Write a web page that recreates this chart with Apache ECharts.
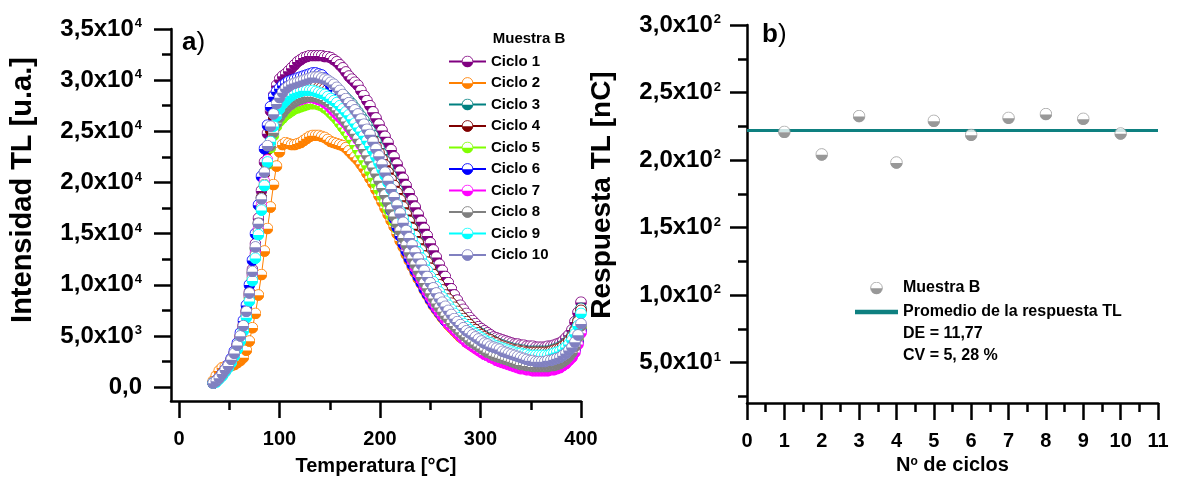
<!DOCTYPE html>
<html>
<head>
<meta charset="utf-8">
<script src="https://cdn.jsdelivr.net/npm/echarts@6/dist/echarts.min.js"></script>
<style>
  html, body { margin: 0; padding: 0; background: #fff; }
  #chart { width: 1178px; height: 481px; }
</style>
</head>
<body>
<div id="chart"></div>
<script>
// ---- Panel a): TL glow curves, Muestra B, ten read-out cycles ----
const temps = [
  34, 37, 40, 43, 46, 49, 52, 55, 58, 61,
  64, 67, 70, 73, 76, 79, 82, 85, 88, 91,
  94, 97, 100, 103, 106, 109, 112, 115, 118, 121,
  124, 127, 130, 133, 136, 139, 142, 145, 148, 151,
  154, 157, 160, 163, 166, 169, 172, 175, 178, 181,
  184, 187, 190, 193, 196, 199, 202, 205, 208, 211,
  214, 217, 220, 223, 226, 229, 232, 235, 238, 241,
  244, 247, 250, 253, 256, 259, 262, 265, 268, 271,
  274, 277, 280, 283, 286, 289, 292, 295, 298, 301,
  304, 307, 310, 313, 316, 319, 322, 325, 328, 331,
  334, 337, 340, 343, 346, 349, 352, 355, 358, 361,
  364, 367, 370, 373, 376, 379, 382, 385, 388, 391,
  394, 397, 400
];

const ciclo1 = [
  400, 600, 900, 1300, 1700, 2100, 2700, 3300, 4100, 5000,
  6100, 7500, 9300, 11500, 14000, 16500, 19200, 22000, 24800, 27000,
  28500, 29500, 30100, 30400, 30600, 30900, 31200, 31500, 31800, 32000,
  32200, 32300, 32400, 32400, 32400, 32400, 32400, 32300, 32300, 32200,
  32000, 31800, 31500, 31200, 30800, 30400, 30100, 29800, 29500, 29000,
  28500, 28000, 27500, 26900, 26300, 25700, 25100, 24500, 23900, 23200,
  22500, 21800, 21100, 20400, 19700, 19000, 18300, 17600, 16900, 16200,
  15500, 14800, 14100, 13400, 12700, 12000, 11400, 10800, 10200, 9600,
  9000, 8500, 8000, 7600, 7200, 6800, 6500, 6200, 5900, 5700,
  5500, 5300, 5100, 4900, 4800, 4700, 4600, 4500, 4400, 4300,
  4200, 4200, 4100, 4100, 4000, 4000, 4000, 3900, 3900, 3900,
  3900, 4000, 4000, 4100, 4200, 4300, 4500, 4800, 5100, 5600,
  6400, 7300, 8300
];

const ciclo2 = [
  600, 1100, 1600, 1900, 2000, 2000, 2100, 2200, 2400, 2600,
  2900, 3600, 4500, 5800, 7200, 9000, 11000, 13300, 15500, 17600,
  19800, 21600, 23000, 23700, 23900, 23800, 23700, 23700, 23800, 23900,
  24100, 24300, 24500, 24600, 24600, 24600, 24500, 24400, 24200, 24000,
  23900, 23800, 23700, 23600, 23400, 23100, 22800, 22500, 22200, 21800,
  21400, 20900, 20400, 19900, 19300, 18700, 18100, 17500, 16900, 16300,
  15700, 15000, 14300, 13700, 13000, 12400, 11800, 11200, 10600, 10100,
  9500, 9000, 8500, 8000, 7600, 7200, 6800, 6500, 6100, 5800,
  5500, 5200, 4900, 4700, 4400, 4200, 4000, 3800, 3600, 3500,
  3300, 3100, 3000, 2800, 2700, 2600, 2500, 2400, 2300, 2200,
  2100, 2000, 1900, 1900, 1800, 1800, 1800, 1700, 1700, 1700,
  1700, 1800, 1800, 1900, 2000, 2100, 2300, 2500, 2800, 3100,
  3700, 4500, 5600
];

const ciclo3 = [
  400, 600, 900, 1200, 1600, 2100, 2600, 3200, 4000, 4900,
  5900, 7300, 9000, 11100, 13500, 16000, 18500, 21000, 23400, 25300,
  26600, 27500, 28100, 28500, 28800, 29000, 29200, 29300, 29400, 29500,
  29600, 29700, 29700, 29800, 29800, 29800, 29700, 29700, 29600, 29500,
  29300, 29100, 28900, 28600, 28300, 28000, 27700, 27300, 26900, 26500,
  26100, 25600, 25100, 24600, 24000, 23400, 22800, 22100, 21400, 20700,
  20000, 19300, 18500, 17800, 17000, 16300, 15600, 14900, 14200, 13500,
  12900, 12300, 11700, 11100, 10500, 10000, 9500, 9000, 8600, 8200,
  7800, 7400, 7000, 6700, 6400, 6100, 5800, 5600, 5400, 5200,
  5000, 4800, 4600, 4500, 4300, 4200, 4100, 4000, 3900, 3800,
  3700, 3700, 3600, 3600, 3500, 3500, 3500, 3500, 3500, 3500,
  3500, 3500, 3600, 3700, 3800, 3900, 4100, 4300, 4600, 5000,
  5600, 6500, 7700
];

const ciclo4 = [
  400, 600, 900, 1300, 1700, 2100, 2700, 3300, 4100, 5000,
  6000, 7400, 9100, 11200, 13600, 16000, 18500, 20900, 23200, 25100,
  26400, 27300, 27900, 28300, 28600, 28800, 29000, 29100, 29200, 29300,
  29300, 29400, 29400, 29400, 29400, 29300, 29300, 29200, 29100, 29000,
  28800, 28600, 28400, 28100, 27800, 27500, 27200, 26800, 26400, 26000,
  25600, 25100, 24600, 24100, 23500, 22900, 22300, 21700, 21000, 20300,
  19700, 19000, 18300, 17600, 16900, 16200, 15500, 14800, 14100, 13400,
  12800, 12200, 11600, 11000, 10500, 10000, 9500, 9000, 8600, 8200,
  7800, 7400, 7000, 6700, 6400, 6100, 5800, 5600, 5300, 5100,
  4900, 4700, 4600, 4400, 4300, 4100, 4000, 3900, 3800, 3700,
  3600, 3600, 3500, 3500, 3400, 3400, 3400, 3400, 3400, 3400,
  3400, 3400, 3500, 3600, 3700, 3800, 4000, 4200, 4500, 4900,
  5500, 6400, 7500
];

const ciclo5 = [
  400, 600, 900, 1200, 1600, 2000, 2500, 3100, 3800, 4700,
  5700, 7000, 8600, 10500, 12700, 15000, 17400, 19700, 21800, 23400,
  24600, 25500, 26000, 26300, 26600, 26800, 27000, 27200, 27300, 27400,
  27500, 27600, 27700, 27700, 27700, 27600, 27500, 27300, 27100, 26800,
  26500, 26200, 25800, 25400, 25000, 24600, 24200, 23700, 23200, 22700,
  22200, 21700, 21100, 20500, 19900, 19300, 18700, 18100, 17400, 16800,
  16200, 15500, 14900, 14200, 13500, 12900, 12200, 11600, 11000, 10400,
  9900, 9300, 8800, 8300, 7900, 7400, 7000, 6700, 6300, 6000,
  5700, 5400, 5100, 4800, 4600, 4400, 4200, 4000, 3800, 3600,
  3400, 3300, 3100, 3000, 2900, 2800, 2700, 2600, 2500, 2400,
  2300, 2200, 2100, 2100, 2000, 2000, 1900, 1900, 1900, 1900,
  1900, 1900, 2000, 2000, 2100, 2200, 2400, 2600, 2900, 3200,
  3800, 4600, 5700
];

const ciclo6 = [
  400, 600, 900, 1300, 1700, 2200, 2800, 3500, 4300, 5300,
  6500, 8000, 10000, 12400, 15000, 17800, 20600, 23300, 25600, 27400,
  28400, 28900, 29200, 29500, 29700, 29900, 30000, 30100, 30200, 30300,
  30400, 30500, 30600, 30700, 30700, 30600, 30500, 30200, 29900, 29500,
  29100, 28700, 28300, 27900, 27400, 27000, 26500, 26000, 25400, 24800,
  24200, 23500, 22800, 22100, 21300, 20500, 19700, 18900, 18100, 17300,
  16500, 15600, 14800, 14000, 13300, 12600, 12000, 11400, 10800, 10200,
  9600, 9100, 8600, 8100, 7700, 7300, 6900, 6500, 6200, 5900,
  5600, 5300, 5000, 4700, 4500, 4300, 4100, 3900, 3700, 3500,
  3300, 3100, 3000, 2900, 2700, 2600, 2500, 2400, 2300, 2200,
  2100, 2000, 1900, 1900, 1800, 1800, 1700, 1700, 1700, 1700,
  1700, 1700, 1800, 1800, 1900, 2000, 2200, 2400, 2700, 3000,
  3600, 4400, 5500
];

const ciclo7 = [
  400, 600, 900, 1200, 1600, 2000, 2500, 3100, 3900, 4800,
  5900, 7200, 8900, 10900, 13100, 15400, 17800, 20100, 22200, 23900,
  25100, 25900, 26500, 26900, 27200, 27500, 27700, 27900, 28000, 28100,
  28200, 28300, 28300, 28300, 28200, 28100, 28000, 27800, 27600, 27300,
  27000, 26700, 26400, 26100, 25800, 25400, 25000, 24600, 24200, 23700,
  23200, 22700, 22200, 21600, 21000, 20400, 19700, 19000, 18300, 17600,
  16900, 16200, 15400, 14600, 13800, 13100, 12400, 11700, 11100, 10500,
  9900, 9300, 8800, 8300, 7800, 7400, 7000, 6600, 6200, 5900,
  5600, 5300, 5000, 4700, 4400, 4200, 4000, 3800, 3600, 3400,
  3200, 3100, 2900, 2800, 2600, 2500, 2400, 2300, 2200, 2100,
  2000, 1900, 1800, 1800, 1700, 1700, 1600, 1600, 1600, 1600,
  1600, 1600, 1700, 1700, 1800, 1900, 2100, 2300, 2600, 2900,
  3400, 4200, 5300
];

const ciclo8 = [
  400, 600, 900, 1200, 1600, 2000, 2500, 3100, 3900, 4800,
  5800, 7100, 8800, 10700, 12900, 15200, 17500, 19800, 21900, 23600,
  24900, 25800, 26400, 26800, 27200, 27500, 27700, 27900, 28100, 28200,
  28300, 28400, 28400, 28400, 28400, 28300, 28200, 28100, 27900, 27700,
  27400, 27100, 26800, 26400, 26000, 25600, 25200, 24800, 24300, 23800,
  23300, 22700, 22100, 21500, 20900, 20200, 19500, 18800, 18100, 17400,
  16700, 16000, 15300, 14600, 13900, 13200, 12600, 12000, 11400, 10800,
  10200, 9700, 9200, 8700, 8200, 7800, 7400, 7000, 6700, 6300,
  6000, 5700, 5400, 5100, 4900, 4600, 4400, 4200, 4000, 3800,
  3600, 3400, 3300, 3100, 3000, 2900, 2800, 2700, 2600, 2500,
  2400, 2300, 2200, 2200, 2100, 2100, 2000, 2000, 2000, 2000,
  2000, 2000, 2100, 2100, 2200, 2300, 2500, 2700, 3000, 3400,
  4000, 4900, 6000
];

const ciclo9 = [
  400, 500, 800, 1100, 1500, 1900, 2400, 3000, 3700, 4500,
  5500, 6800, 8400, 10400, 12600, 14900, 17300, 19700, 22000, 24000,
  25500, 26500, 27200, 27700, 28000, 28300, 28500, 28700, 28800, 28900,
  29000, 29000, 29000, 29000, 28900, 28800, 28700, 28600, 28400, 28200,
  28000, 27800, 27500, 27200, 26900, 26600, 26200, 25800, 25400, 25000,
  24600, 24100, 23600, 23100, 22500, 21900, 21300, 20700, 20000, 19300,
  18600, 17900, 17200, 16500, 15800, 15100, 14400, 13800, 13200, 12600,
  12000, 11400, 10800, 10300, 9800, 9300, 8800, 8400, 8000, 7600,
  7200, 6800, 6500, 6200, 5900, 5600, 5400, 5200, 5000, 4800,
  4600, 4400, 4300, 4100, 4000, 3900, 3800, 3700, 3600, 3500,
  3400, 3300, 3300, 3200, 3200, 3100, 3100, 3100, 3100, 3100,
  3100, 3100, 3200, 3300, 3400, 3500, 3700, 3900, 4200, 4600,
  5200, 6000, 7200
];

const ciclo10 = [
  400, 600, 900, 1300, 1700, 2100, 2700, 3300, 4100, 5000,
  6000, 7400, 9200, 11300, 13700, 16000, 18400, 21000, 23600, 25500,
  26700, 27700, 28300, 28800, 29200, 29400, 29600, 29700, 29800, 29900,
  30000, 30100, 30200, 30300, 30300, 30300, 30200, 30100, 30000, 29800,
  29600, 29300, 29000, 28600, 28200, 27800, 27500, 27100, 26700, 26200,
  25700, 25200, 24700, 24000, 23300, 22600, 21800, 21000, 20200, 19400,
  18600, 17800, 17000, 16100, 15300, 14600, 13900, 13200, 12600, 12000,
  11400, 10800, 10200, 9700, 9200, 8700, 8300, 7900, 7500, 7100,
  6700, 6400, 6100, 5800, 5500, 5300, 5100, 4900, 4700, 4500,
  4300, 4200, 4000, 3900, 3800, 3700, 3500, 3400, 3300, 3200,
  3100, 3000, 2900, 2800, 2700, 2600, 2600, 2500, 2500, 2500,
  2500, 2600, 2600, 2700, 2800, 2900, 3100, 3300, 3600, 3900,
  4400, 5100, 6200
];

const cycleNames = ['Ciclo 1', 'Ciclo 2', 'Ciclo 3', 'Ciclo 4', 'Ciclo 5',
                    'Ciclo 6', 'Ciclo 7', 'Ciclo 8', 'Ciclo 9', 'Ciclo 10'];
const cycleValues = [ciclo1, ciclo2, ciclo3, ciclo4, ciclo5, ciclo6, ciclo7, ciclo8, ciclo9, ciclo10];
const cycleColors = ['#800080', '#ff8000', '#008080', '#800000', '#80ff00',
                     '#0000ff', '#ff00ff', '#808080', '#00ffff', '#8080c0'];

// Axis ticks and labels of panel a)
const tempTicks = [0, 100, 200, 300, 400];
const tempMinorTicks = [50, 150, 250, 350];
const intensTicks = [0, 5000, 10000, 15000, 20000, 25000, 30000, 35000];
const intensMinorTicks = [2500, 7500, 12500, 17500, 22500, 27500, 32500];
const intensMantissa = ['0,0', '5,0x10', '1,0x10', '1,5x10', '2,0x10', '2,5x10', '3,0x10', '3,5x10'];
const intensExponent = ['', '3', '4', '4', '4', '4', '4', '4'];

// ---- Panel b): TL response per cycle ----
const cycles = [1, 2, 3, 4, 5, 6, 7, 8, 9, 10];
const respuesta = [220.8, 204.1, 232.5, 198.1, 229.0, 218.6, 231.2, 234.0, 230.5, 219.6];
const respTicks = [50, 100, 150, 200, 250, 300];
const respMinorTicks = [25, 75, 125, 175, 225, 275];
const respMantissa = ['5,0x10', '1,0x10', '1,5x10', '2,0x10', '2,5x10', '3,0x10'];
const respExponent = ['1', '2', '2', '2', '2', '2'];
const statsLines = ['DE = 11,77', 'CV = 5, 28 %'];

const FONT = '"Liberation Sans", Arial, Helvetica, sans-serif';

// Half-filled disc marker: white upper half, coloured lower half
function halfDisc(fill, edge) {
  const svg = "<svg xmlns='http://www.w3.org/2000/svg' width='40' height='40' viewBox='0 0 40 40'>" +
    "<circle cx='20' cy='20' r='18' fill='#ffffff' stroke='" + edge + "' stroke-width='3'/>" +
    "<path d='M2 21 A18 18 0 0 0 38 21 Z' fill='" + fill + "'/></svg>";
  return 'image://data:image/svg+xml;charset=utf-8,' + encodeURIComponent(svg);
}

const meanResp = respuesta.reduce((a, b) => a + b, 0) / respuesta.length;

function supLabel(mants, exps, ticks) {
  return function (v) {
    const i = ticks.indexOf(v);
    if (i < 0) return '';
    return exps[i] ? '{m|' + mants[i] + '}{e|' + exps[i] + '}' : '{m|' + mants[i] + '}';
  };
}
const supRich = {
  m: { fontSize: 24, fontWeight: 'bold', fontFamily: FONT, color: '#000' },
  e: { fontSize: 13, fontWeight: 'bold', fontFamily: FONT, color: '#000', verticalAlign: 'top', padding: [0, 0, 0, 1] }
};

const axisLine = { show: true, onZero: false, lineStyle: { color: '#000', width: 2.5 } };
const hiddenLine = { show: false, onZero: false };
const tickStyle = { color: '#000', width: 2.5 };

const leftSeries = cycleNames.map((name, k) => ({
  name: name,
  type: 'line',
  xAxisIndex: 0,
  yAxisIndex: 0,
  data: temps.map((t, i) => [t, cycleValues[k][i]]),
  symbol: halfDisc(cycleColors[k], cycleColors[k]),
  symbolSize: 12,
  showSymbol: true,
  showAllSymbol: true,
  clip: false,
  lineStyle: { color: cycleColors[k], width: 1 },
  itemStyle: { color: cycleColors[k] },
  animation: false
}));

const option = {
  animation: false,
  backgroundColor: '#ffffff',
  grid: [
    { left: 171, top: 29, width: 410, height: 374 },
    { left: 747, top: 25, width: 411, height: 378 }
  ],
  xAxis: [
    {
      gridIndex: 0, type: 'value', min: -8, max: 400, position: 'bottom',
      axisLine: axisLine,
      axisTick: { show: true, inside: false, length: 17, lineStyle: tickStyle, customValues: tempTicks },
      axisLabel: { show: true, margin: 28, fontSize: 20, fontWeight: 'bold', fontFamily: FONT, color: '#000', customValues: tempTicks },
      splitLine: { show: false },
      name: 'Temperatura [°C]', nameLocation: 'middle', nameGap: 55,
      nameTextStyle: { fontSize: 20, fontWeight: 'bold', fontFamily: FONT, color: '#000' }
    },
    {
      gridIndex: 0, type: 'value', min: -8, max: 400, position: 'bottom',
      axisLine: hiddenLine,
      axisTick: { show: true, inside: false, length: 9, lineStyle: tickStyle, customValues: tempMinorTicks },
      axisLabel: { show: false },
      splitLine: { show: false }
    },
    {
      gridIndex: 1, type: 'value', min: 0, max: 11, interval: 1, position: 'bottom',
      axisLine: axisLine,
      axisTick: { show: true, inside: false, length: 17, lineStyle: tickStyle },
      minorTick: { show: true, splitNumber: 2, length: 9, lineStyle: tickStyle },
      axisLabel: { show: true, margin: 28, fontSize: 20, fontWeight: 'bold', fontFamily: FONT, color: '#000' },
      splitLine: { show: false },
      minorSplitLine: { show: false },
      name: '{n|N}{o|o}{n| de ciclos}', nameLocation: 'middle', nameGap: 48,
      nameTextStyle: {
        rich: {
          n: { fontSize: 20, fontWeight: 'bold', fontFamily: FONT, color: '#000' },
          o: { fontSize: 12, fontWeight: 'bold', fontFamily: FONT, color: '#000', verticalAlign: 'top' }
        }
      }
    }
  ],
  yAxis: [
    {
      gridIndex: 0, type: 'value', min: -1360, max: 35000, position: 'left',
      axisLine: axisLine,
      axisTick: { show: true, inside: false, length: 17, lineStyle: tickStyle, customValues: intensTicks },
      axisLabel: {
        show: true, margin: 29, customValues: intensTicks,
        formatter: supLabel(intensMantissa, intensExponent, intensTicks), rich: supRich
      },
      splitLine: { show: false }
    },
    {
      gridIndex: 0, type: 'value', min: -1360, max: 35000, position: 'left',
      axisLine: hiddenLine,
      axisTick: { show: true, inside: false, length: 9, lineStyle: tickStyle, customValues: intensMinorTicks },
      axisLabel: { show: false },
      splitLine: { show: false }
    },
    {
      gridIndex: 1, type: 'value', min: 20, max: 300, position: 'left',
      axisLine: axisLine,
      axisTick: { show: true, inside: false, length: 17, lineStyle: tickStyle, customValues: respTicks },
      axisLabel: {
        show: true, margin: 26, customValues: respTicks,
        formatter: supLabel(respMantissa, respExponent, respTicks), rich: supRich
      },
      splitLine: { show: false }
    },
    {
      gridIndex: 1, type: 'value', min: 20, max: 300, position: 'left',
      axisLine: hiddenLine,
      axisTick: { show: true, inside: false, length: 9, lineStyle: tickStyle, customValues: respMinorTicks },
      axisLabel: { show: false },
      splitLine: { show: false }
    }
  ],
  legend: [
    {
      data: cycleNames,
      orient: 'vertical',
      left: 448, top: 54, padding: 0,
      itemWidth: 37, itemHeight: 15, itemGap: 6.5,
      lineStyle: { width: 2 },
      textStyle: { fontSize: 15, fontWeight: 'bold', fontFamily: FONT, color: '#000', lineHeight: 15 },
      selectedMode: false
    },
    {
      data: [
        { name: 'Muestra B' },
        { name: 'Promedio de la respuesta TL', icon: 'path://M0,0H40V4H0Z' }
      ],
      orient: 'vertical',
      left: 855, top: 280, padding: 0,
      itemWidth: 43, itemHeight: 13, itemGap: 8,
      textStyle: { fontSize: 16, fontWeight: 'bold', fontFamily: FONT, color: '#000', lineHeight: 16 },
      selectedMode: false
    }
  ],
  graphic: [
    {
      type: 'text', x: 23, y: 190, rotation: Math.PI / 2,
      style: { text: 'Intensidad TL [u.a.]', font: 'bold 29px ' + FONT, fill: '#000',
               textAlign: 'center', textVerticalAlign: 'middle', align: 'center', verticalAlign: 'middle' }
    },
    {
      type: 'text', x: 602, y: 195, rotation: Math.PI / 2,
      style: { text: 'Respuesta TL [nC]', font: 'bold 28px ' + FONT, fill: '#000',
               textAlign: 'center', textVerticalAlign: 'middle', align: 'center', verticalAlign: 'middle' }
    },
    {
      type: 'text', x: 182, y: 30,
      style: {
        text: '{b|a}{p|)}', fill: '#000',
        rich: {
          b: { fontSize: 26, fontWeight: 'bold', fontFamily: FONT, fill: '#000' },
          p: { fontSize: 26, fontWeight: 'normal', fontFamily: FONT, fill: '#000' }
        }
      }
    },
    {
      type: 'text', x: 762, y: 22,
      style: {
        text: '{b|b}{p|)}', fill: '#000',
        rich: {
          b: { fontSize: 26, fontWeight: 'bold', fontFamily: FONT, fill: '#000' },
          p: { fontSize: 26, fontWeight: 'normal', fontFamily: FONT, fill: '#000' }
        }
      }
    },
    {
      type: 'text', x: 529, y: 39,
      style: { text: 'Muestra B', font: 'bold 15px ' + FONT, fill: '#000',
               textAlign: 'center', textVerticalAlign: 'middle', align: 'center', verticalAlign: 'middle' }
    },
    {
      type: 'text', x: 903, y: 334,
      style: { text: statsLines[0], font: 'bold 16px ' + FONT, fill: '#000',
               textVerticalAlign: 'middle', verticalAlign: 'middle' }
    },
    {
      type: 'text', x: 903, y: 356,
      style: { text: statsLines[1], font: 'bold 16px ' + FONT, fill: '#000',
               textVerticalAlign: 'middle', verticalAlign: 'middle' }
    }
  ],
  series: leftSeries.concat([
    {
      name: 'Promedio de la respuesta TL',
      type: 'line',
      xAxisIndex: 2, yAxisIndex: 2,
      data: [[0, meanResp], [11, meanResp]],
      symbol: 'none',
      lineStyle: { color: '#0e8080', width: 3 },
      itemStyle: { color: '#0e8080' },
      z: 2
    },
    {
      name: 'Muestra B',
      type: 'scatter',
      xAxisIndex: 2, yAxisIndex: 2,
      data: cycles.map((c, i) => [c, respuesta[i]]),
      symbol: halfDisc('#7f7f7f', '#9a9a9a'),
      symbolSize: 13,
      itemStyle: { color: '#7f7f7f' },
      z: 3
    }
  ])
};

const chart = echarts.init(document.getElementById('chart'), null, { renderer: 'canvas' });
chart.setOption(option);
</script>
</body>
</html>
